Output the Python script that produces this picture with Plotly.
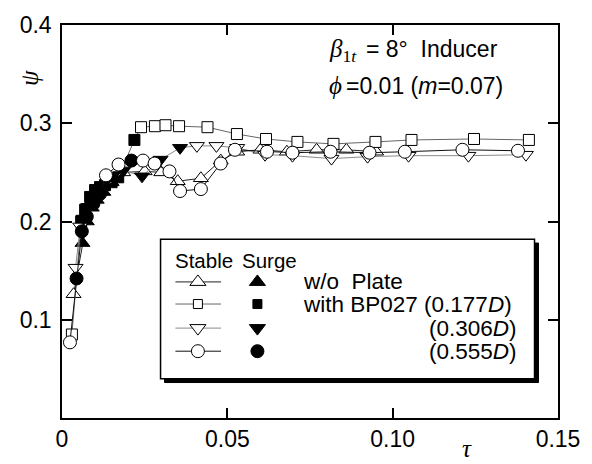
import plotly.graph_objects as go

# ---- data (tau, psi, surge flag: 1 = filled marker) ----
# w/o Plate
tau_wo = [0.0035, 0.0062, 0.0075, 0.0090, 0.0105, 0.0125, 0.0150, 0.0185, 0.0250, 0.0300,
          0.0350, 0.0420, 0.0480, 0.0530, 0.0600, 0.0680, 0.0770, 0.0860, 0.0950]
psi_wo = [0.126, 0.178, 0.200, 0.214, 0.222, 0.230, 0.240, 0.250, 0.251, 0.250,
          0.241, 0.244, 0.262, 0.271, 0.273, 0.271, 0.273, 0.273, 0.271]
surge_wo = [0, 1, 1, 1, 1, 1, 1, 0, 0, 0, 0, 0, 0, 0, 0, 0, 0, 0, 0]

# with BP027 (0.177D)
tau_177 = [0.0030, 0.0058, 0.0070, 0.0085, 0.0100, 0.0115, 0.0130, 0.0150, 0.0170, 0.0219,
           0.0239, 0.0281, 0.0313, 0.0354, 0.0440, 0.0529, 0.0617, 0.0712, 0.0821, 0.0948,
           0.1057, 0.1246, 0.1412]
psi_177 = [0.085, 0.200, 0.212, 0.225, 0.232, 0.235, 0.237, 0.240, 0.245, 0.283,
           0.296, 0.297, 0.298, 0.297, 0.296, 0.289, 0.284, 0.281, 0.279, 0.281,
           0.283, 0.284, 0.283]
surge_177 = [0, 1, 1, 1, 1, 1, 1, 1, 1, 1, 0, 0, 0, 0, 0, 0, 0, 0, 0, 0, 0, 0, 0]

# (0.306D)
tau_306 = [0.0041, 0.0055, 0.0065, 0.0080, 0.0100, 0.0130, 0.0160, 0.0186, 0.0242, 0.0298,
           0.0357, 0.0408, 0.0467, 0.0530, 0.0614, 0.0697, 0.0815, 0.0924, 0.1048, 0.1229,
           0.1403]
psi_306 = [0.153, 0.195, 0.203, 0.215, 0.222, 0.235, 0.243, 0.252, 0.246, 0.263,
           0.275, 0.277, 0.277, 0.275, 0.268, 0.267, 0.264, 0.266, 0.267, 0.267,
           0.268]
surge_306 = [0, 0, 1, 1, 1, 1, 1, 1, 1, 1, 1, 0, 0, 0, 0, 0, 0, 0, 0, 0, 0]

# (0.555D)
tau_555 = [0.0024, 0.0044, 0.0060, 0.0075, 0.0095, 0.0115, 0.0133, 0.0171, 0.0210, 0.0245,
           0.0280, 0.0325, 0.0357, 0.0420, 0.0480, 0.0523, 0.0620, 0.0697, 0.0812, 0.0930,
           0.1037, 0.1211, 0.1379]
psi_555 = [0.077, 0.142, 0.190, 0.205, 0.218, 0.228, 0.247, 0.258, 0.262, 0.262,
           0.259, 0.251, 0.231, 0.233, 0.259, 0.273, 0.271, 0.270, 0.271, 0.270,
           0.271, 0.273, 0.272]
surge_555 = [0, 1, 1, 1, 1, 1, 0, 0, 1, 0, 0, 0, 0, 0, 0, 0, 0, 0, 0, 0, 0, 0, 0]

labels = ['w/o\u00a0 Plate', 'with BP027 (0.177<i>D</i>)', '(0.306<i>D</i>)', '(0.555<i>D</i>)']

series = [
    (tau_wo, psi_wo, surge_wo, 'triangle-up', 13, '#222'),
    (tau_177, psi_177, surge_177, 'square', 11, '#666'),
    (tau_306, psi_306, surge_306, 'triangle-down', 13, '#8a8a8a'),
    (tau_555, psi_555, surge_555, 'circle', 13, '#111'),
]

FONT = 'Liberation Sans, Arial, sans-serif'
SERIF = 'Liberation Serif, Times New Roman, serif'

fig = go.Figure()

for tau, psi, surge, sym, sz, lc in series:
    fig.add_trace(go.Scatter(
        x=tau, y=psi, mode='lines+markers',
        line=dict(color=lc, width=1),
        marker=dict(symbol=sym, size=sz,
                    color=['black' if s else 'white' for s in surge],
                    line=dict(color='black', width=1)),
        showlegend=False, hoverinfo='skip'
    ))

# ---- hand-made legend box (data coords) ----
bx0, bx1, by0, by1 = 0.0298, 0.1429, 0.040, 0.182
dx, dy = 0.0012, 0.0039
fig.add_shape(type='rect', x0=bx0 + dx, x1=bx1 + dx, y0=by0 - dy, y1=by1 - dy,
              fillcolor='black', line=dict(color='black', width=1), layer='below')
fig.add_shape(type='rect', x0=bx0, x1=bx1, y0=by0, y1=by1,
              fillcolor='white', line=dict(color='black', width=1.5), layer='below')

row_y = [0.1385, 0.1160, 0.0915, 0.0680]
leg_sizes = [14, 9, 14, 13]
for (tau, psi, surge, sym, sz, lc), yy, lsz in zip(series, row_y, leg_sizes):
    fig.add_trace(go.Scatter(x=[0.0343, 0.0481], y=[yy, yy], mode='lines',
                             line=dict(color=lc, width=1), showlegend=False, hoverinfo='skip'))
    fig.add_trace(go.Scatter(x=[0.0411], y=[yy], mode='markers',
                             marker=dict(symbol=sym, size=lsz, color='white',
                                         line=dict(color='black', width=1)),
                             showlegend=False, hoverinfo='skip'))
    fig.add_trace(go.Scatter(x=[0.0591], y=[yy], mode='markers',
                             marker=dict(symbol=sym, size=lsz, color='black',
                                         line=dict(color='black', width=1)),
                             showlegend=False, hoverinfo='skip'))

# legend header + labels
fig.add_annotation(xref='x', yref='y', x=0.0428, y=0.160, text='Stable', xanchor='center',
                   yanchor='middle', showarrow=False, font=dict(family=FONT, size=20.5, color='black'))
fig.add_annotation(xref='x', yref='y', x=0.0626, y=0.160, text='Surge', xanchor='center',
                   yanchor='middle', showarrow=False, font=dict(family=FONT, size=20.5, color='black'))
lab_pos = [(0.0724, 'left'), (0.0724, 'left'), (0.1382, 'right'), (0.1382, 'right')]
for (xx, anc), yy, txt in zip(lab_pos, row_y, labels):
    fig.add_annotation(xref='x', yref='y', x=xx, y=yy, text=txt, xanchor=anc, yanchor='middle',
                       showarrow=False, font=dict(family=FONT, size=22.5, color='black'))

# condition text: Greek symbols in serif, rest in sans
fig.add_annotation(xref='x', yref='y', x=0.0800, y=0.374, xanchor='left', yanchor='middle',
                   showarrow=False, font=dict(family=SERIF, size=25, color='black'),
                   text='<i>β</i><sub>1<i>t</i></sub>')
fig.add_annotation(xref='x', yref='y', x=0.0912, y=0.376, xanchor='left', yanchor='middle',
                   showarrow=False, font=dict(family=FONT, size=23, color='black'),
                   text='= 8°\u00a0 Inducer')
fig.add_annotation(xref='x', yref='y', x=0.0800, y=0.338, xanchor='left', yanchor='middle',
                   showarrow=False, font=dict(family=SERIF, size=25, color='black'),
                   text='<i>ϕ</i>')
fig.add_annotation(xref='x', yref='y', x=0.0852, y=0.338, xanchor='left', yanchor='middle',
                   showarrow=False, font=dict(family=FONT, size=23, color='black'),
                   text='=0.01 (<i>m</i>=0.07)')

# axis titles
fig.add_annotation(xref='paper', yref='paper', x=-0.098, y=0.89, showarrow=False,
                   textangle=-90, text='<i>ψ</i>', font=dict(family=SERIF, size=25, color='black'))
fig.add_annotation(xref='paper', yref='paper', x=0.83, y=-0.118, showarrow=False,
                   text='<i>τ</i>', font=dict(family=SERIF, size=25, color='black'))

axis_common = dict(showgrid=False, zeroline=False, showline=True, linecolor='black', linewidth=1.5,
                   mirror='ticks', ticks='inside', ticklen=10, tickcolor='black', tickwidth=1.5,
                   tickfont=dict(family=FONT, size=23, color='black'), ticklabeloverflow='allow')

fig.update_layout(
    width=592, height=464,
    margin=dict(l=62, r=22, t=22, b=36),
    paper_bgcolor='white', plot_bgcolor='white',
    font=dict(family=FONT, size=23, color='black'),
    xaxis=dict(range=[0, 0.15], tickvals=[0, 0.05, 0.10, 0.15],
               ticktext=['0', '0.05', '0.10', '0.15'], **axis_common),
    yaxis=dict(range=[0, 0.4], tickvals=[0.1, 0.2, 0.3, 0.4],
               ticktext=['0.1', '0.2', '0.3', '0.4'], ticklabelstandoff=4, **axis_common),
)

# drop the default 8px page margin so the figure sits at the window origin
fig.write_html('out.html', config={'displayModeBar': False},
               post_script="document.body.style.margin='0';")
